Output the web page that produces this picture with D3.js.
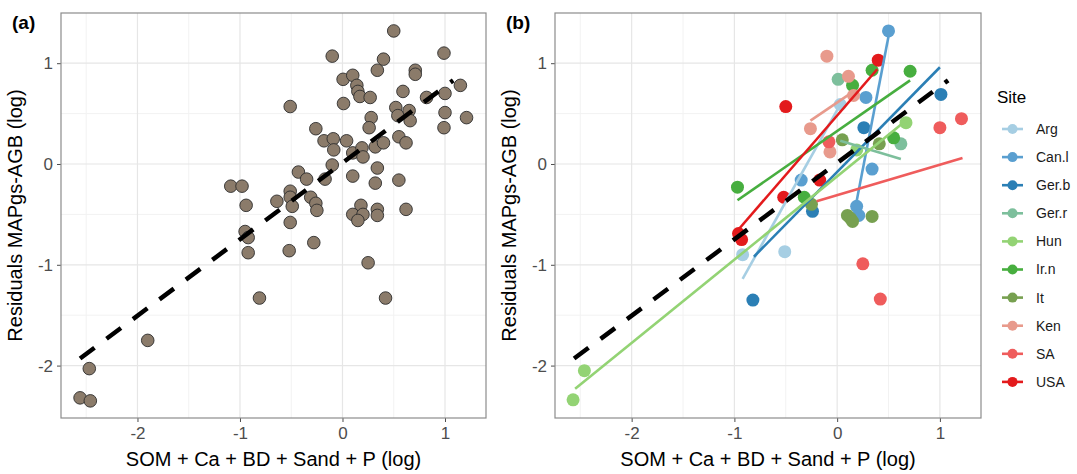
<!DOCTYPE html>
<meta charset="utf-8">
<title>Residuals vs soil</title>
<style>
body { margin: 0; background: white; font-family: 'Liberation Sans', Arial, sans-serif; }
.tick text { fill: #4d4d4d; font-size: 17px; }
.tick line { stroke: #4d4d4d; }
</style>
<svg width="1077" height="474"></svg>
<script src="https://d3js.org/d3.v7.min.js"></script>
<script>
// panel (a): all residuals
var aX = [-2.56,-2.46,-2.47,-1.90,-1.09,-0.98,-0.94,-0.95,-0.92,-0.92,-0.81,-0.64,-0.51,-0.51,-0.49,-0.51,-0.52,
  -0.51,-0.43,-0.35,-0.31,-0.26,-0.25,-0.28,-0.26,-0.18,-0.17,-0.10,-0.09,-0.085,-0.10,0.006,0.01,0.04,0.10,0.10,
  0.14,0.15,0.17,0.27,0.28,0.26,0.19,0.20,0.32,0.40,0.34,0.32,0.10,0.18,0.10,0.20,0.15,0.34,0.34,0.25,0.42,
  0.50,0.40,0.34,0.71,0.71,0.59,0.52,0.54,0.65,0.66,0.55,0.62,0.55,0.62,0.82,0.99,1.00,1.00,0.99,1.15,1.21];
var aY = [-2.32,-2.35,-2.03,-1.75,-0.22,-0.22,-0.41,-0.67,-0.73,-0.88,-1.33,-0.37,-0.27,-0.33,-0.42,-0.58,-0.86,
  0.57,-0.08,-0.15,-0.33,-0.39,-0.46,-0.78,0.35,0.23,-0.15,1.07,0.25,0.14,-0.01,0.84,0.60,0.23,0.88,0.11,
  0.78,0.72,0.67,0.66,0.46,0.36,0.16,0.07,0.17,0.21,-0.04,-0.19,-0.12,-0.41,-0.50,-0.50,-0.56,-0.45,-0.51,-0.98,-1.33,
  1.32,1.04,0.93,0.93,0.89,0.72,0.56,0.48,0.53,0.43,0.27,0.21,-0.16,-0.45,0.66,1.10,0.70,0.51,0.36,0.78,0.46];

// panel (b): residuals by site
var sites = ["Arg","Can.l","Ger.b","Ger.r","Hun","Ir.n","It","Ken","SA","USA"];
var siteColors = ["#a6cee3","#5a9fd0","#2b7fb5","#7dbf9c","#93d374","#47ae3f","#77a050","#e89a8c","#ef5c5c","#e31a1c"];
var ptsArg  = [[-0.92,-0.90],[-0.51,-0.87],[0.03,0.59]];
var ptsCanl = [[0.50,1.32],[0.28,0.66],[0.34,-0.05],[-0.35,-0.16],[0.19,-0.42],[0.21,-0.51]];
var ptsGerb = [[1.01,0.69],[0.26,0.36],[-0.24,-0.47],[-0.82,-1.35]];
var ptsGerr = [[0.01,0.84],[0.62,0.20]];
var ptsHun  = [[0.67,0.41],[0.19,0.14],[-2.57,-2.34],[-2.46,-2.05]];
var ptsIrn  = [[0.34,0.93],[0.71,0.92],[0.15,0.78],[0.55,0.26],[-0.97,-0.23],[-0.32,-0.33]];
var ptsIt   = [[0.05,0.24],[0.41,0.20],[-0.25,-0.40],[0.10,-0.51],[0.13,-0.54],[0.15,-0.57],[0.34,-0.52]];
var ptsKen  = [[-0.10,1.07],[0.11,0.87],[0.16,0.68],[-0.26,0.35],[-0.07,0.12]];
var ptsSA   = [[1.00,0.36],[1.21,0.45],[-0.08,0.22],[0.25,-0.99],[0.42,-1.34]];
var ptsUSA  = [[0.40,1.03],[-0.50,0.57],[-0.17,-0.16],[-0.52,-0.33],[-0.96,-0.69],[-0.93,-0.75]];
var sitePoints = [ptsArg,ptsCanl,ptsGerb,ptsGerr,ptsHun,ptsIrn,ptsIt,ptsKen,ptsSA,ptsUSA];

// per-site fitted lines [x0, y0, x1, y1] (null = no line)
var siteFits = [[-0.92,-1.14,0.03,0.59],[0.18,-0.42,0.51,1.32],[-0.81,-0.92,1.00,0.96],[0.03,0.23,0.62,0.05],
  [-2.55,-2.23,0.68,0.44],[-0.97,-0.36,0.71,0.83],null,[-0.26,0.43,0.16,0.72],[-0.20,-0.37,1.22,0.06],[-0.96,-0.65,0.39,0.94]];

// overall fit (dashed)
var fitAll = [-2.56,-1.93,1.08,0.83];

var xTicks = [-2,-1,0,1], yTicks = [-2,-1,0,1];
var xMinor = [-2.5,-1.5,-0.5,0.5], yMinor = [-1.5,-0.5,0.5];

var svg = d3.select("svg");
var plotTop = 13, plotBottom = 418;

function panel(left, right, label) {
  var g = svg.append("g");
  var x = d3.scaleLinear().domain([-2.746, 1.4]).range([left, right]);
  var y = d3.scaleLinear().domain([-2.52, 1.498]).range([plotBottom, plotTop]);
  g.append("g").selectAll("line").data(xMinor).join("line")
    .attr("x1", x).attr("x2", x).attr("y1", plotTop).attr("y2", plotBottom)
    .attr("stroke", "#f2f2f2").attr("stroke-width", 1);
  g.append("g").selectAll("line").data(yMinor).join("line")
    .attr("y1", y).attr("y2", y).attr("x1", left).attr("x2", right)
    .attr("stroke", "#f2f2f2").attr("stroke-width", 1);
  g.append("g").selectAll("line").data(xTicks).join("line")
    .attr("x1", x).attr("x2", x).attr("y1", plotTop).attr("y2", plotBottom)
    .attr("stroke", "#e6e6e6").attr("stroke-width", 1.2);
  g.append("g").selectAll("line").data(yTicks).join("line")
    .attr("y1", y).attr("y2", y).attr("x1", left).attr("x2", right)
    .attr("stroke", "#e6e6e6").attr("stroke-width", 1.2);

  var fmt = function(d) { return d < 0 ? "-" + Math.abs(d) : String(d); };
  var xa = g.append("g").attr("transform", "translate(0," + plotBottom + ")")
    .call(d3.axisBottom(x).tickValues(xTicks).tickSize(4).tickPadding(5).tickFormat(fmt));
  var ya = g.append("g").attr("transform", "translate(" + left + ",0)")
    .call(d3.axisLeft(y).tickValues(yTicks).tickSize(4).tickPadding(4).tickFormat(fmt));
  xa.select(".domain").remove();
  ya.select(".domain").remove();

  g.append("text").attr("x", (left + right) / 2).attr("y", 466).attr("text-anchor", "middle")
    .attr("font-size", 20).text("SOM + Ca + BD + Sand + P (log)");
  g.append("text").attr("transform", "translate(" + (left - 39) + "," + (plotTop + plotBottom) / 2 + ") rotate(-90)")
    .attr("text-anchor", "middle").attr("font-size", 20).text("Residuals MAPgs-AGB (log)");
  g.append("text").attr("x", left - 49).attr("y", 29).attr("font-size", 19).attr("font-weight", "bold").text(label);
  return {g: g, x: x, y: y, left: left, right: right};
}

function border(p) {
  p.g.append("rect").attr("x", p.left).attr("y", plotTop).attr("width", p.right - p.left).attr("height", plotBottom - plotTop)
    .attr("fill", "none").attr("stroke", "#8c8c8c").attr("stroke-width", 1.2);
}

function dashed(p) {
  p.g.append("line")
    .attr("x1", p.x(fitAll[0])).attr("y1", p.y(fitAll[1]))
    .attr("x2", p.x(fitAll[2])).attr("y2", p.y(fitAll[3]))
    .attr("stroke", "black").attr("stroke-width", 4.5).attr("stroke-dasharray", "18,15");
}

// (a)
var pa = panel(61, 486, "(a)");
pa.g.append("g").selectAll("circle").data(d3.range(aX.length)).join("circle")
  .attr("cx", function(i) { return pa.x(aX[i]); })
  .attr("cy", function(i) { return pa.y(aY[i]); })
  .attr("r", 6.3).attr("fill", "#8b7b6a").attr("stroke", "#2e2e2e").attr("stroke-width", 0.9);
dashed(pa);
border(pa);

// (b)
var pb = panel(555, 981, "(b)");
sitePoints.forEach(function(pts, k) {
  pb.g.append("g").selectAll("circle").data(pts).join("circle")
    .attr("cx", function(d) { return pb.x(d[0]); })
    .attr("cy", function(d) { return pb.y(d[1]); })
    .attr("r", 6.5).attr("fill", siteColors[k]);
});
siteFits.forEach(function(f, k) {
  if (!f) return;
  pb.g.append("line")
    .attr("x1", pb.x(f[0])).attr("y1", pb.y(f[1])).attr("x2", pb.x(f[2])).attr("y2", pb.y(f[3]))
    .attr("stroke", siteColors[k]).attr("stroke-width", 2.6);
});
dashed(pb);
border(pb);

// legend
var lg = svg.append("g").attr("transform", "translate(997,0)");
lg.append("text").attr("x", 0).attr("y", 103).attr("font-size", 17).text("Site");
var item = lg.selectAll("g.item").data(sites).join("g")
  .attr("transform", function(d, i) { return "translate(0," + (129 + i * 28.1) + ")"; });
item.append("line").attr("x1", 5).attr("x2", 26).attr("stroke", function(d, i) { return siteColors[i]; })
  .attr("stroke-width", 2.6);
item.append("circle").attr("cx", 15.5).attr("r", 5).attr("fill", function(d, i) { return siteColors[i]; });
item.append("text").attr("x", 39).attr("dy", "0.35em").attr("font-size", 14).attr("fill", "#1a1a1a").text(function(d) { return d; });
</script>
